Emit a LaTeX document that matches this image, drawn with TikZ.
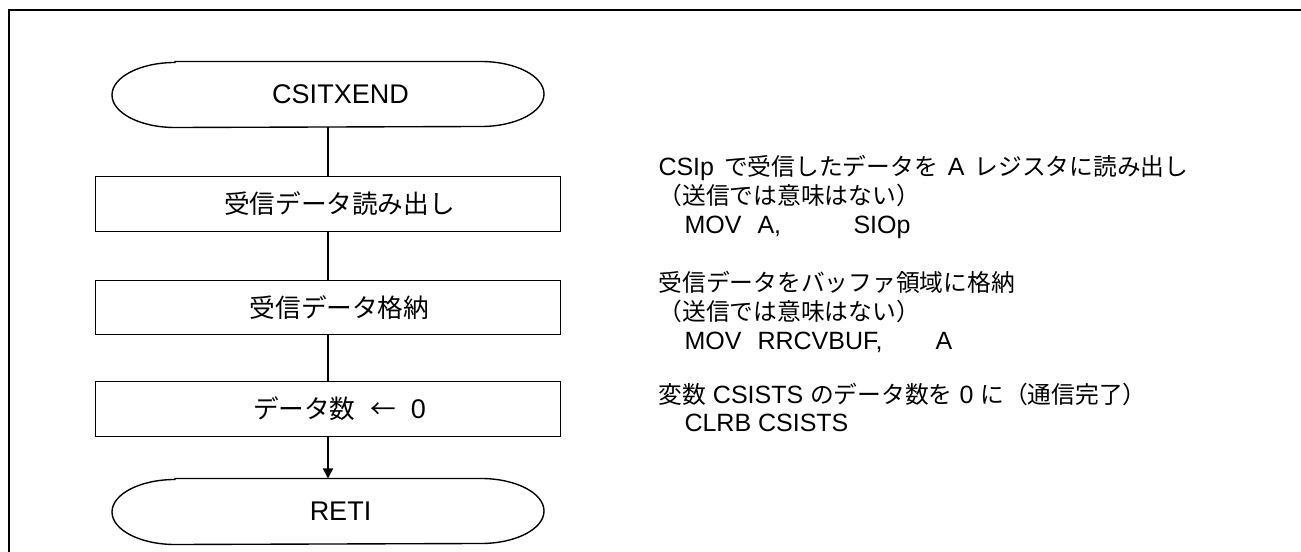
\documentclass[tikz,border=0pt]{standalone}
\usepackage{fontspec}
\setmainfont{Liberation Sans}
\newfontfamily\jp[Scale=0.95]{Noto Sans CJK JP}
\usetikzlibrary{arrows.meta,positioning}
\tikzset{
  flowline/.style={line width=0.55pt},
  flowbox/.style={draw,flowline,minimum width=186pt,minimum height=21.8pt,inner sep=0pt,
    font=\fontsize{10.8}{12}\selectfont,execute at begin node=\hspace*{9.2pt}},
  terminal/.style={minimum width=172.4pt,minimum height=26pt,inner sep=0pt,
    font=\fontsize{10.8}{12}\selectfont,execute at begin node=\hspace*{10pt}},
  note/.style={anchor=base west,inner sep=0pt,font=\fontsize{10}{12}\selectfont},
}
% elliptic ends of a terminal node
\newcommand{\termoutline}[1]{%
  \draw[flowline] ([xshift=25.2pt]#1.north west) -- ([xshift=-25.2pt]#1.north east)
    arc[start angle=90,end angle=-90,x radius=25.2pt,y radius=13pt]
    -- ([xshift=25.2pt]#1.south west)
    arc[start angle=270,end angle=90,x radius=25.2pt,y radius=13pt] -- cycle;}

\begin{document}
\begin{tikzpicture}[x=0.4pt,y=-0.4pt]
  \useasboundingbox (0,0) rectangle (1301,552);
  % frame
  \draw[line width=0.8pt] (9,552) -- (9,10) -- (1301,10);

  % flow chart
  \node[terminal] (start) at (328,94.5) {CSITXEND};
  \termoutline{start}
  \node[flowbox] (read) at (328,204) {\jp 受信データ読み出し};
  \node[flowbox] (store) at (328,307.5) {\jp 受信データ格納};
  \node[flowbox] (clear) at (328,409) {{\jp データ数}\hspace{0.55em}{\jp ←}\hspace{0.55em}0};
  \node[terminal] (reti) at (328,511.5) {RETI};
  \termoutline{reti}

  \draw[flowline] (start) -- (read);
  \draw[flowline] (read) -- (store);
  \draw[flowline] (store) -- (clear);
  \draw[flowline,-{Triangle[length=4pt,width=4pt]}] (clear) -- (reti);

  % notes
  \node[note] (n1) at (658,176) {CSIp\hspace{0.4em}{\jp で受信したデータを}\hspace{0.4em}A\hspace{0.4em}{\jp レジスタに読み出し}};
  \node[note] (n2) at (658,205) {\jp （送信では意味はない）};
  \node[note] (n3) at (684,234) {MOV};
  \node[note] (n3a) at (757,234) {A,};
  \node[note] (n3b) at (853,234) {SIOp};

  \node[note] (n4) at (658,292) {\jp 受信データをバッファ領域に格納};
  \node[note] (n5) at (658,321) {\jp （送信では意味はない）};
  \node[note] (n6) at (684,350) {MOV};
  \node[note] (n6a) at (757,350) {RRCVBUF,};
  \node[note] (n6b) at (935,350) {A};

  \node[note] (n7) at (658,404) {{\jp 変数} CSISTS {\jp のデータ数を} 0 {\jp に（通信完了）}};
  \node[note] (n8) at (684,431) {CLRB CSISTS};
\end{tikzpicture}
\end{document}
